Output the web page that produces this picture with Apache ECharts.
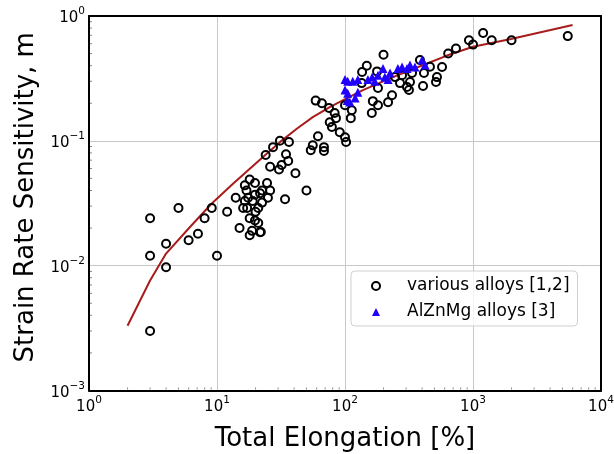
<!DOCTYPE html>
<html>
<head>
<meta charset="utf-8">
<script src="https://cdn.jsdelivr.net/npm/echarts@6/dist/echarts.min.js"></script>
<style>html,body{margin:0;padding:0;background:#fff;}#c{width:614px;height:454px;}</style>
</head>
<body>
<div id="c"></div>
<script>
// ---- data ----
const variousX = [3,3,3,5,4,4,6,7.1,8,9.1,10,12,14,
  18,16.5,19.8,17,21.7,24.6,26,25,17.2,21,16,18,19.8,18.8,15,21.7,18,21,17.5,19.8,19,22.5,16.5,22.5,20,22,
  24,26,30.5,32,36,41,34.6,50,34,31,36.5,27.4,
  59,66,75,83,85,76,79,91,100,102,111,113,61.5,56,54,68.5,68.5,100,
  200,148,136,178,640,736,573,523,514,407,385,414,322,305,316,269,233,217,165,181,162,181,246,279,334,461,135,
  5500,2000,1400,1200,1000,930];
const variousY = [0.024,0.012,0.003,0.029,0.015,0.0097,0.016,0.018,0.024,0.029,0.012,0.027,0.035,
  0.049,0.044,0.046,0.04,0.038,0.046,0.04,0.035,0.029,0.029,0.029,0.024,0.023,0.019,0.02,0.0185,0.0175,0.022,0.035,0.037,0.033,0.032,0.033,0.04,0.027,0.0186,
  0.077,0.062,0.059,0.064,0.069,0.055,0.078,0.04,0.034,0.1,0.098,0.089,
  0.21,0.2,0.183,0.167,0.152,0.141,0.129,0.117,0.107,0.098,0.152,0.176,0.109,0.092,0.084,0.089,0.083,0.193,
  0.49,0.4,0.356,0.36,0.5,0.55,0.39,0.324,0.296,0.275,0.444,0.35,0.296,0.27,0.255,0.29,0.232,0.204,0.208,0.193,0.167,0.265,0.324,0.336,0.35,0.392,0.29,
  0.69,0.64,0.64,0.73,0.59,0.64];
const alznmgX = [100,105,115,126,100,105,104,109,120,126,151,163,171,181,198,205,217,225,259,279,305,322,352,400,422];
const alznmgY = [0.31,0.30,0.30,0.31,0.255,0.24,0.21,0.205,0.22,0.245,0.31,0.325,0.30,0.336,0.38,0.325,0.31,0.35,0.38,0.39,0.38,0.405,0.39,0.445,0.405];
const curveX = [2,3,4,6.15,9.1,13.4,23.7,31,42,56,76,102,138,237,409,626,1000,1980,6000];
const curveY = [0.0033,0.0076,0.0125,0.0204,0.0315,0.0455,0.0768,0.0976,0.125,0.155,0.186,0.218,0.255,0.324,0.405,0.482,0.567,0.654,0.847];
const xMinorTicks = [2,3,4,5,6,7,8,9,20,30,40,50,60,70,80,90,200,300,400,500,600,700,800,900,2000,3000,4000,5000,6000,7000,8000,9000];
const yMinorTicks = [0.002,0.003,0.004,0.005,0.006,0.007,0.008,0.009,0.02,0.03,0.04,0.05,0.06,0.07,0.08,0.09,0.2,0.3,0.4,0.5,0.6,0.7,0.8,0.9];
const seriesNames = ['various alloys [1,2]', 'AlZnMg alloys [3]'];

const FONT = 'DejaVu Sans';
const zip = (a, b) => a.map((v, i) => [v, b[i]]);
const supLabel = v => {
  const e = Math.round(Math.log10(v));
  return '{b|10}{s|' + String(e).replace('-', '\u2212') + '}';
};
const richTicks = {
  b: {fontFamily: FONT, fontSize: 15, color: '#000', lineHeight: 20, verticalAlign: 'bottom'},
  s: {fontFamily: FONT, fontSize: 10.5, color: '#000', lineHeight: 20, verticalAlign: 'top'}
};
const frameAxis = {
  axisLine: {show: true, lineStyle: {color: '#000', width: 2}},
  axisTick: {show: false}, axisLabel: {show: false}, splitLine: {show: false}
};

const chart = echarts.init(document.getElementById('c'), null, {renderer: 'canvas'});
chart.setOption({
  backgroundColor: '#fff',
  animation: false,
  grid: {left: 89, right: 13, top: 16, bottom: 63.5, outerBoundsMode: 'none', containLabel: false},
  legend: {
    data: seriesNames,
    orient: 'vertical',
    left: 351, top: 271,
    padding: [6, 8, 5, 20],
    itemWidth: 8, itemHeight: 8, itemGap: 8,
    borderColor: '#cfcfcf', borderWidth: 1, borderRadius: 4,
    backgroundColor: 'rgba(255,255,255,0.8)',
    textStyle: {fontFamily: FONT, fontSize: 17, color: '#000', lineHeight: 18, padding: [0, 0, 0, 22]},
    selectedMode: false
  },
  xAxis: [{
    type: 'log', logBase: 10, min: 1, max: 10000,
    name: 'Total Elongation [%]', nameLocation: 'middle', nameGap: 36,
    nameTextStyle: {fontFamily: FONT, fontSize: 26, color: '#000'},
    axisLine: {show: true, lineStyle: {color: '#000', width: 2}},
    axisTick: {show: false},
    axisLabel: {margin: 4, formatter: supLabel, rich: richTicks},
    splitLine: {show: true, lineStyle: {color: '#c8c8c8', width: 1}}
  }, Object.assign({type: 'log', logBase: 10, min: 1, max: 10000, position: 'top'}, frameAxis)],
  yAxis: [{
    type: 'log', logBase: 10, min: 0.001, max: 1,
    name: 'Strain Rate Sensitivity, m', nameLocation: 'middle', nameGap: 47,
    nameTextStyle: {fontFamily: FONT, fontSize: 26, color: '#000', padding: [0, 0, 0, 12]},
    axisLine: {show: true, lineStyle: {color: '#000', width: 2}},
    axisTick: {show: false},
    axisLabel: {margin: 4, formatter: supLabel, rich: richTicks},
    splitLine: {show: true, lineStyle: {color: '#c8c8c8', width: 1}}
  }, Object.assign({type: 'log', logBase: 10, min: 0.001, max: 1, position: 'right'}, frameAxis)],
  series: [
    {
      type: 'custom', silent: true, z: 1,
      data: xMinorTicks.map(v => [v]),
      encode: {x: 0},
      renderItem: (params, api) => {
        const p = api.coord([api.value(0), 0.001]);
        return {type: 'line', shape: {x1: p[0], y1: p[1] - 1, x2: p[0], y2: p[1] - 3}, style: {stroke: '#888', lineWidth: 1}};
      }
    },
    {
      type: 'custom', silent: true, z: 1,
      data: yMinorTicks.map(v => [1, v]),
      encode: {x: 0, y: 1},
      renderItem: (params, api) => {
        const p = api.coord([1, api.value(1)]);
        return {type: 'line', shape: {x1: p[0] + 1, y1: p[1], x2: p[0] + 3, y2: p[1]}, style: {stroke: '#888', lineWidth: 1}};
      }
    },
    {
      type: 'line', name: 'fit', data: zip(curveX, curveY), showSymbol: false, symbol: 'none',
      lineStyle: {color: '#a81c1c', width: 2}, z: 2, silent: true
    },
    {
      type: 'scatter', name: seriesNames[0], data: zip(variousX, variousY),
      symbol: 'circle', symbolSize: 8,
      itemStyle: {color: 'rgba(0,0,0,0)', borderColor: '#000', borderWidth: 2, opacity: 1},
      z: 3
    },
    {
      type: 'scatter', name: seriesNames[1], data: zip(alznmgX, alznmgY),
      symbol: 'triangle', symbolSize: 9,
      itemStyle: {color: '#2000ff', opacity: 1},
      z: 4
    }
  ]
});
</script>
</body>
</html>
